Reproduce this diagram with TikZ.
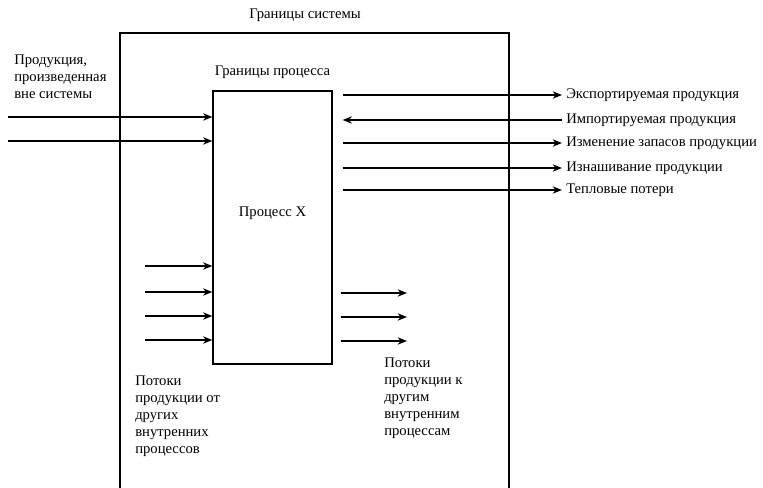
\documentclass[tikz,border=0pt]{standalone}
\usepackage{fontspec}
\setmainfont{Liberation Serif}
\usetikzlibrary{arrows.meta, positioning}

\begin{document}
\begin{tikzpicture}[x=0.75pt, y=-0.75pt]
        \tikzstyle{boundary} = [draw=black, line width=1pt]
        \tikzstyle{process} = [rectangle, draw=black, line width=1pt, minimum width=89.25pt, minimum height=204.75pt]
        \tikzstyle{txt} = [inner sep=0pt, align=left, font=\fontsize{11}{12.75}\selectfont]
        \tikzstyle{arrow} = [line width=1pt,-{Stealth[length=7pt, width=5.5pt]}]

        \useasboundingbox (0,0) rectangle (763,488);

        % system boundary (open at the bottom)
        \draw [boundary] (120,488) -- (120,33) -- (509,33) -- (509,488);
        \node (systitle) [txt] at (305,15) {Границы системы};

        \node (proc) [process] at (272.5,227.5) {};
        \node (proctitle) [txt] at (272.5,72) {Границы процесса};
        \node (proctext) [txt] at (272.5,213) {Процесс X};

        % flows from outside the system
        \node (extin) [txt, anchor=north west] at (14,55) {Продукция,\\произведенная\\вне системы};
        \coordinate (ext1) at (8,117);
        \coordinate (ext2) at (8,141);
        \draw [arrow] (ext1) -- (ext1 -| proc.west);
        \draw [arrow] (ext2) -- (ext2 -| proc.west);

        % flows leaving / entering on the right
        \node (exp) [txt, anchor=west] at (566,95) {Экспортируемая продукция};
        \node (imp) [txt, anchor=west] at (566,120) {Импортируемая продукция};
        \node (stock) [txt, anchor=west] at (566,143) {Изменение запасов продукции};
        \node (wear) [txt, anchor=west] at (566,168) {Изнашивание продукции};
        \node (heat) [txt, anchor=west] at (566,190) {Тепловые потери};
        \draw [arrow] ([xshift=7.5pt]proc.east |- exp) -- ([xshift=-3pt]exp.west);
        \draw [arrow] ([xshift=-3pt]imp.west) -- ([xshift=7.5pt]proc.east |- imp);
        \draw [arrow] ([xshift=7.5pt]proc.east |- stock) -- ([xshift=-3pt]stock.west);
        \draw [arrow] ([xshift=7.5pt]proc.east |- wear) -- ([xshift=-3pt]wear.west);
        \draw [arrow] ([xshift=7.5pt]proc.east |- heat) -- ([xshift=-3pt]heat.west);

        % flows from other internal processes
        \coordinate (from1) at (145,266);
        \coordinate (from2) at (145,292);
        \coordinate (from3) at (145,316);
        \coordinate (from4) at (145,340);
        \draw [arrow] (from1) -- (from1 -| proc.west);
        \draw [arrow] (from2) -- (from2 -| proc.west);
        \draw [arrow] (from3) -- (from3 -| proc.west);
        \draw [arrow] (from4) -- (from4 -| proc.west);
        \node (fromtxt) [txt, anchor=north west] at (135,376) {Потоки\\продукции от\\других\\внутренних\\процессов};

        % flows to other internal processes
        \coordinate (to1) at (407,293);
        \coordinate (to2) at (407,317);
        \coordinate (to3) at (407,341);
        \draw [arrow] ([xshift=6pt]proc.east |- to1) -- (to1);
        \draw [arrow] ([xshift=6pt]proc.east |- to2) -- (to2);
        \draw [arrow] ([xshift=6pt]proc.east |- to3) -- (to3);
        \node (totxt) [txt, anchor=north west] at (384,358) {Потоки\\продукции к\\другим\\внутренним\\процессам};
\end{tikzpicture}
\end{document}
